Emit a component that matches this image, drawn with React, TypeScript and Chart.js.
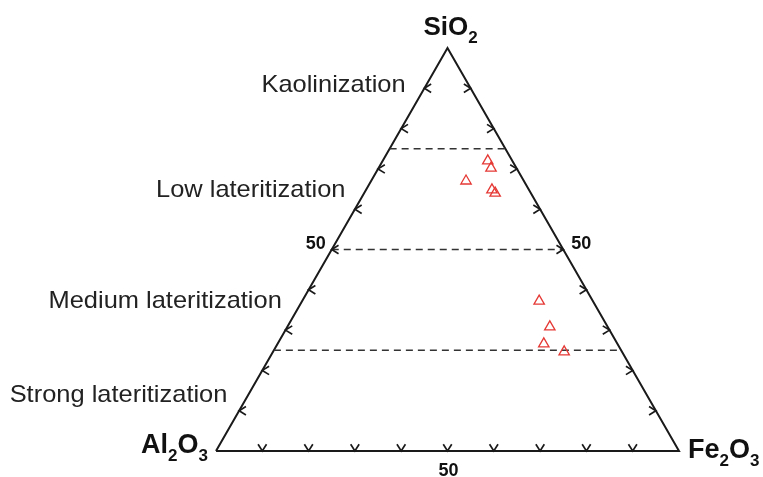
import { useEffect, useRef } from 'react';
import { Chart, registerables } from 'chart.js';

Chart.register(...registerables);

// Sample compositions (wt %, normalised)
const sio2 = [72.0, 70.2, 67.0, 64.8, 64.0, 37.2, 30.8, 26.6, 24.6];
const al2o3 = [5.3, 5.5, 12.5, 8.0, 7.7, 11.6, 12.5, 15.9, 12.5];
const fe2o3 = [22.7, 24.3, 20.5, 27.2, 28.3, 51.2, 56.7, 57.5, 62.9];

// Lateritization boundaries (SiO2 %)
const boundaryLevels = [25, 50, 75];

// Axis ticks (%)
const tickValues = [10, 20, 30, 40, 50, 60, 70, 80, 90];
const tickLabelValues = [50];

// Zone names and the SiO2 level (%) where each is written
const zoneLabels = ['Kaolinization', 'Low lateritization', 'Medium lateritization', 'Strong lateritization'];
const zoneLevels = [91, 65, 37.5, 14];

// Vertex labels: [text, isSubscript]
const labelTop: [string, boolean][] = [['SiO', false], ['2', true]];
const labelLeft: [string, boolean][] = [['Al', false], ['2', true], ['O', false], ['3', true]];
const labelRight: [string, boolean][] = [['Fe', false], ['2', true], ['O', false], ['3', true]];

const H = Math.sqrt(3) / 2;
const toXY = (s: number, a: number, f: number) => {
  const t = s + a + f;
  return { x: (f + s / 2) / t, y: (s / t) * H };
};

const FONT = '"Liberation Sans", Arial, Helvetica, sans-serif';

function drawChem(ctx: CanvasRenderingContext2D, parts: [string, boolean][], x: number, y: number, align: 'left' | 'right' | 'center', size: number, subSize: number, subDrop: number) {
  const mainFont = `bold ${size}px ${FONT}`;
  const subFont = `bold ${subSize}px ${FONT}`;
  let total = 0;
  const widths = parts.map(([t, sub]) => {
    ctx.font = sub ? subFont : mainFont;
    const w = ctx.measureText(t).width;
    total += w;
    return w;
  });
  let cx = align === 'left' ? x : align === 'right' ? x - total : x - total / 2;
  ctx.textAlign = 'left';
  ctx.textBaseline = 'alphabetic';
  parts.forEach(([t, sub], i) => {
    ctx.font = sub ? subFont : mainFont;
    ctx.fillText(t, cx, sub ? y + subDrop : y);
    cx += widths[i];
  });
}

const ternaryPlugin = {
  id: 'ternaryDecor',
  afterDatasetsDraw(chart: any) {
    const ctx: CanvasRenderingContext2D = chart.ctx;
    const xs = chart.scales.x;
    const ys = chart.scales.y;
    const px = (p: { x: number; y: number }) => ({ X: xs.getPixelForValue(p.x), Y: ys.getPixelForValue(p.y) });

    ctx.save();
    // ticks (small arrowheads sitting on the edges)
    ctx.strokeStyle = '#1a1a1a';
    ctx.lineWidth = 1.7;
    ctx.lineJoin = 'miter';
    const arm = 8;
    const spread = (32 * Math.PI) / 180;
    const chev = (P: { X: number; Y: number }, dir: number) => {
      ctx.beginPath();
      ctx.moveTo(P.X + Math.cos(dir - spread) * arm, P.Y + Math.sin(dir - spread) * arm);
      ctx.lineTo(P.X, P.Y);
      ctx.lineTo(P.X + Math.cos(dir + spread) * arm, P.Y + Math.sin(dir + spread) * arm);
      ctx.stroke();
    };
    tickValues.forEach((v) => {
      // bottom edge (Fe2O3 %)
      chev(px(toXY(0, 100 - v, v)), -Math.PI / 2);
      // left edge (SiO2 %)
      chev(px(toXY(v, 100 - v, 0)), 0);
      // right edge (SiO2 %)
      chev(px(toXY(v, 0, 100 - v)), Math.PI);
    });

    // tick labels
    ctx.fillStyle = '#111';
    ctx.font = `bold 18px ${FONT}`;
    ctx.textBaseline = 'middle';
    tickLabelValues.forEach((v) => {
      const L = px(toXY(v, 100 - v, 0));
      ctx.textAlign = 'right';
      ctx.fillText(String(v), L.X - 6, L.Y - 5);
      const R = px(toXY(v, 0, 100 - v));
      ctx.textAlign = 'left';
      ctx.fillText(String(v), R.X + 8, R.Y - 5);
      const B = px(toXY(0, 100 - v, v));
      ctx.textAlign = 'center';
      ctx.fillText(String(v), B.X + 1, B.Y + 20);
    });

    // zone labels
    ctx.fillStyle = '#222';
    ctx.font = `24px ${FONT}`;
    ctx.textAlign = 'right';
    ctx.textBaseline = 'middle';
    zoneLabels.forEach((t, i) => {
      const P = px(toXY(zoneLevels[i], 100 - zoneLevels[i], 0));
      ctx.save();
      ctx.translate(P.X - 21, P.Y + 1);
      ctx.scale(1.06, 1);
      ctx.fillText(t, 0, 0);
      ctx.restore();
    });

    // vertex labels
    ctx.fillStyle = '#111';
    const top = px(toXY(100, 0, 0));
    const left = px(toXY(0, 100, 0));
    const right = px(toXY(0, 0, 100));
    drawChem(ctx, labelTop, top.X + 3, top.Y - 13, 'center', 26, 17, 8);
    drawChem(ctx, labelLeft, left.X - 8, left.Y + 2, 'right', 27, 17, 8);
    drawChem(ctx, labelRight, right.X + 9, right.Y + 7, 'left', 27, 17, 8);
    ctx.restore();
  },
};

export default function App() {
  const ref = useRef<HTMLCanvasElement>(null);

  useEffect(() => {
    if (!ref.current) return;
    const samples = sio2.map((s, i) => toXY(s, al2o3[i], fe2o3[i]));
    const outline = [toXY(0, 100, 0), toXY(0, 0, 100), toXY(100, 0, 0), toXY(0, 100, 0)];
    const boundaries = boundaryLevels.map((lv) => ({
      type: 'scatter' as const,
      data: [toXY(lv, 100 - lv, 0), toXY(lv, 0, 100 - lv)],
      showLine: true,
      borderColor: '#333',
      borderWidth: 1.3,
      borderDash: [7, 5],
      pointRadius: 0,
      clip: false as any,
    }));

    const chart = new Chart(ref.current, {
      type: 'scatter',
      data: {
        datasets: [
          {
            data: samples,
            pointStyle: 'triangle',
            pointRadius: 6,
            borderColor: '#e53935',
            backgroundColor: 'rgba(255,255,255,0)',
            borderWidth: 1.3,
            clip: false as any,
          },
          ...boundaries,
          {
            data: outline,
            showLine: true,
            borderColor: '#1a1a1a',
            borderWidth: 2,
            borderJoinStyle: 'miter',
            pointRadius: 0,
            clip: false as any,
          },
        ],
      },
      options: {
        responsive: false,
        animation: false,
        layout: { padding: { left: 216, right: 84, top: 48, bottom: 26 } },
        scales: {
          x: { type: 'linear', min: 0, max: 1, display: false },
          y: { type: 'linear', min: 0, max: H, display: false },
        },
        plugins: { legend: { display: false }, tooltip: { enabled: false } },
      },
      plugins: [ternaryPlugin],
    });
    return () => chart.destroy();
  }, []);

  return (
    <div style={{ position: 'absolute', left: 0, top: 0, width: 763, height: 477, background: '#fff' }}>
      <canvas ref={ref} width={763} height={477} />
    </div>
  );
}
